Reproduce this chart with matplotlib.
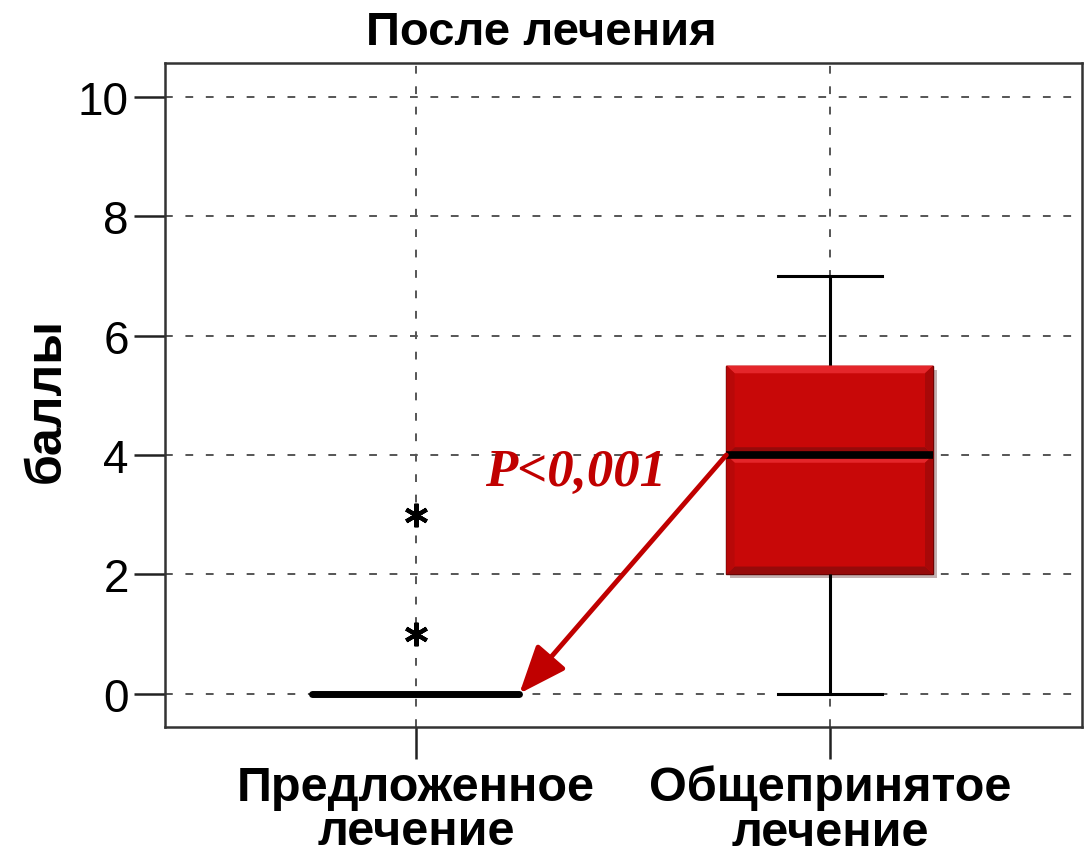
import matplotlib
matplotlib.use('Agg')
import matplotlib.pyplot as plt
from matplotlib.patches import Polygon
import matplotlib.patheffects as pe

plt.rcParams['font.family'] = ['Liberation Sans', 'DejaVu Sans']

# Box summaries per group (score, points)
groups = ['Предложенное\nлечение', 'Общепринятое\nлечение']
whislo = [0, 0]
q1 = [0, 2]
med = [0, 4]
q3 = [0, 5.5]
whishi = [0, 7]
fliers = [[1, 3], []]
p_text = 'P<0,001'

red = '#C80808'
dark_red = '#C00000'

stats = []
for i in range(len(groups)):
    stats.append(dict(label=groups[i], whislo=whislo[i], q1=q1[i], med=med[i],
                      q3=q3[i], whishi=whishi[i], fliers=fliers[i]))

fig = plt.figure(figsize=(10.89, 8.54), dpi=100)
ax = fig.add_axes([0.1515, 0.1475, 0.842, 0.7775])

pos = [1, 2]
bw = 0.5
bp = ax.bxp(stats, positions=pos, widths=bw, patch_artist=True,
            boxprops=dict(facecolor=red, edgecolor='#5a0000', linewidth=1),
            medianprops=dict(color='black', linewidth=5, solid_capstyle='round'),
            whiskerprops=dict(color='black', linewidth=2.2),
            capprops=dict(color='black', linewidth=2.2),
            capwidths=bw / 2,
            flierprops=dict(marker=(6, 2, 0), markersize=17, markeredgewidth=3,
                            markeredgecolor='black', linestyle='none'),
            zorder=3)

for b in bp['boxes']:
    b.set_path_effects([pe.SimplePatchShadow(offset=(3, -3), alpha=0.3), pe.Normal()])

# bevelled look on each half of the filled box
def bevel(x0, x1, y0, y1, dx=0.02, dy=0.13):
    if y1 - y0 <= 0:
        return
    parts = [
        ([(x0, y1), (x1, y1), (x1 - dx, y1 - dy), (x0 + dx, y1 - dy)], '#E4262A'),
        ([(x0, y0), (x1, y0), (x1 - dx, y0 + dy), (x0 + dx, y0 + dy)], '#960A0A'),
        ([(x0, y0), (x0, y1), (x0 + dx, y1 - dy), (x0 + dx, y0 + dy)], '#B80808'),
        ([(x1, y0), (x1, y1), (x1 - dx, y1 - dy), (x1 - dx, y0 + dy)], '#A80808'),
    ]
    for pts, c in parts:
        ax.add_patch(Polygon(pts, closed=True, facecolor=c, edgecolor='none', zorder=3.5))

for i in range(len(groups)):
    x0, x1 = pos[i] - bw / 2, pos[i] + bw / 2
    bevel(x0, x1, med[i], q3[i])
    bevel(x0, x1, q1[i], med[i])

for i, m in enumerate(bp['medians']):
    m.set_zorder(4)
    if q3[i] > q1[i]:
        m.set_solid_capstyle('butt')
        m.set_linewidth(5.5)

ax.set_xlim(0.394, 2.609)
ax.set_ylim(-0.56, 10.57)
ax.set_yticks([0, 2, 4, 6, 8, 10])
ax.set_xticks(pos)
ax.set_xticklabels(groups, fontsize=35, fontweight='bold', linespacing=0.98)
ax.tick_params(axis='y', labelsize=33, length=22, width=1.8, pad=4, colors='#222')
ax.tick_params(axis='x', length=23, width=1.8, pad=4, colors='#222')
for lbl in ax.get_xticklabels() + ax.get_yticklabels():
    lbl.set_color('black')

ax.grid(True, linestyle=(0, (4, 6.5)), color='#555555', linewidth=1.4, zorder=0)
ax.set_axisbelow(True)
for s in ax.spines.values():
    s.set_linewidth(1.8)
    s.set_color('#333333')

ax.set_title('После лечения', fontsize=34, fontweight='bold', x=0.41, pad=14)
ax.set_ylabel('баллы', fontsize=36, fontweight='bold')
ax.yaxis.set_label_coords(-0.104, 0.494)

# significance arrow from the right median to the left one
ax.annotate('', xy=(pos[0] + bw / 2, med[0]), xytext=(pos[1] - bw / 2, med[1]),
            arrowprops=dict(arrowstyle='-|>,head_length=1.05,head_width=0.42',
                            color=dark_red, lw=3.5, mutation_scale=28,
                            shrinkA=0, shrinkB=0), zorder=5)
ax.text(1.385, 3.72, p_text, color=dark_red, fontsize=38, fontweight='bold',
        fontstyle='italic', family=['Liberation Serif', 'DejaVu Serif'],
        ha='center', va='center', zorder=5)

fig.savefig('out.png', dpi=100)
